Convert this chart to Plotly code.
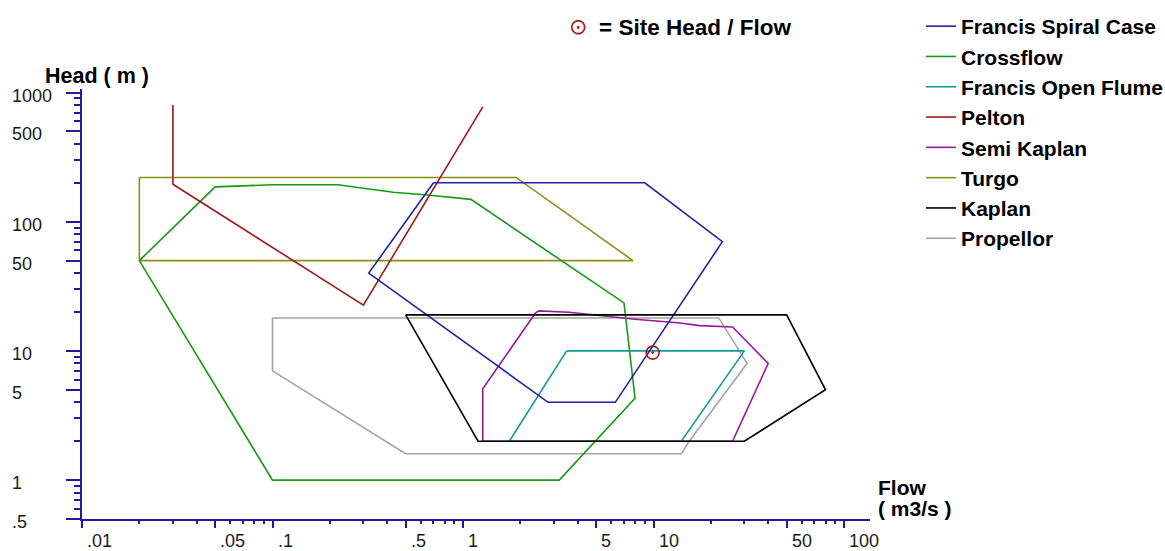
import math
import plotly.graph_objects as go

# ---------------- data ----------------
turbine_names = ["Francis Spiral Case", "Crossflow", "Francis Open Flume", "Pelton",
                 "Semi Kaplan", "Turgo", "Kaplan", "Propellor"]
turbine_colors = ["#2222a8", "#169a16", "#159a9a", "#a01818",
                  "#9a189a", "#8e8e12", "#000000", "#a3a3a3"]

francis_spiral_flow = [0.7, 9, 23, 6.3, 2.8, 0.32, 0.7]
francis_spiral_head = [200, 200, 70, 4, 4, 40, 200]

crossflow_flow = [0.02, 0.05, 0.1, 0.22, 0.43, 0.65, 1.1, 7, 8, 3.2, 0.1, 0.02]
crossflow_head = [50, 186, 193, 193, 169, 161, 149, 23.5, 4.3, 1, 1, 50]

francis_open_flow = [3.5, 30, 14, 1.75, 3.5]
francis_open_head = [10, 10, 2, 2, 10]

pelton_flow = [0.03, 0.03, 0.3, 1.27]
pelton_head = [800, 195, 22.6, 775]

semi_kaplan_flow = [1.27, 1.27, 2.4, 2.5, 3.6, 8, 13.4, 17.5, 26, 40, 26, 1.27]
semi_kaplan_head = [2, 5.1, 19.6, 20.4, 19.9, 17.6, 16.5, 15.7, 15.3, 8, 2, 2]

turgo_flow = [0.02, 1.9, 7.8, 0.02, 0.02]
turgo_head = [220, 220, 50, 50, 220]

kaplan_flow = [0.5, 50, 80, 30, 1.2, 0.5]
kaplan_head = [19, 19, 5, 2, 2, 19]

propellor_flow = [0.1, 22, 31, 15.4, 14, 0.5, 0.1, 0.1]
propellor_head = [18, 18, 8, 2, 1.6, 1.6, 7, 18]

site_flow = [9.9]
site_head = [9.7]

x_major = [0.01, 0.05, 0.1, 0.5, 1, 5, 10, 50, 100]
x_major_labels = [".01", ".05", ".1", ".5", "1", "5", "10", "50", "100"]
x_minor = [0.02, 0.03, 0.04, 0.06, 0.07, 0.08, 0.09,
           0.2, 0.3, 0.4, 0.6, 0.7, 0.8, 0.9,
           2, 3, 4, 6, 7, 8, 9,
           20, 30, 40, 60, 70, 80, 90]
y_major = [0.5, 1, 5, 10, 50, 100, 500, 1000]
y_major_labels = [".5", "1", "5", "10", "50", "100", "500", "1000"]
y_minor = [0.6, 0.7, 0.8, 0.9, 2, 3, 4, 6, 7, 8, 9,
           20, 30, 40, 60, 70, 80, 90, 200, 300, 400, 600, 700, 800, 900]

# ---------------- figure ----------------
W, H = 1165, 551
ML, MT = 82, 89
MR = W - 870
MB = H - 519
PW, PH = W - ML - MR, H - MT - MB
AX = "#1c1c9c"
FONT = "Liberation Sans, Arial, sans-serif"

series = {
    "Francis Spiral Case": (francis_spiral_flow, francis_spiral_head),
    "Crossflow": (crossflow_flow, crossflow_head),
    "Francis Open Flume": (francis_open_flow, francis_open_head),
    "Pelton": (pelton_flow, pelton_head),
    "Semi Kaplan": (semi_kaplan_flow, semi_kaplan_head),
    "Turgo": (turgo_flow, turgo_head),
    "Kaplan": (kaplan_flow, kaplan_head),
    "Propellor": (propellor_flow, propellor_head),
}
draw_order = ["Propellor", "Semi Kaplan", "Francis Open Flume", "Turgo",
              "Crossflow", "Pelton", "Francis Spiral Case", "Kaplan"]

fig = go.Figure()
for name in draw_order:
    i = turbine_names.index(name)
    fx, fy = series[name]
    fig.add_trace(go.Scatter(
        x=fx, y=fy, mode="lines", name="<b>%s</b>" % name,
        line=dict(color=turbine_colors[i], width=1.6),
        legendrank=i + 1, hoverinfo="skip"))

fig.add_trace(go.Scatter(
    x=site_flow, y=site_head, mode="markers", showlegend=False,
    marker=dict(symbol="circle-open-dot", size=13, color="#a01818",
                line=dict(width=1.6, color="#a01818"))))

xr0 = -2.0
xr1 = xr0 + PW / 190.5
yr0 = math.log10(0.5)
yr1 = yr0 + PH / 129.2

fig.update_xaxes(
    type="log", range=[xr0, xr1], showgrid=False, zeroline=False,
    showline=True, linecolor=AX, linewidth=1.5,
    tickmode="array", tickvals=x_major, ticks="outside", ticklen=7,
    tickcolor=AX, tickwidth=1.5, showticklabels=False,
    minor=dict(tickmode="array", tickvals=x_minor, ticks="outside",
               ticklen=3, tickcolor=AX, tickwidth=1.5, showgrid=False))
fig.update_yaxes(
    type="log", range=[yr0, yr1], showgrid=False, zeroline=False,
    showline=True, linecolor=AX, linewidth=1.5,
    tickmode="array", tickvals=y_major, ticks="outside", ticklen=14,
    tickcolor=AX, tickwidth=1.5, showticklabels=False,
    minor=dict(tickmode="array", tickvals=y_minor, ticks="outside",
               ticklen=6, tickcolor=AX, tickwidth=1.5, showgrid=False))

# screen pixel -> paper coordinates
def px_x(p):
    return (p - ML) / PW

def px_y(p):
    return (H - MB - p) / PH

ann = []
for v, t in zip(x_major, x_major_labels):
    ann.append(dict(x=math.log10(v), xref="x", y=px_y(541), yref="paper",
                    text=t, showarrow=False, xanchor="left", yanchor="middle",
                    xshift=3, font=dict(family=FONT, size=18, color="#1a1a1a")))
for v, t in zip(y_major, y_major_labels):
    ann.append(dict(x=px_x(10), xref="paper", y=math.log10(v), yref="y",
                    text=t, showarrow=False, xanchor="left", yanchor="middle",
                    yshift=-3, font=dict(family=FONT, size=18, color="#1a1a1a")))

bold = dict(family=FONT, size=21, color="#000000")
ann.append(dict(x=px_x(43), xref="paper", y=px_y(76), yref="paper",
                text="<b>Head ( m )</b>", showarrow=False, xanchor="left",
                yanchor="middle", font=dict(family=FONT, size=21.5, color="#000000")))
ann.append(dict(x=px_x(876), xref="paper", y=px_y(487), yref="paper",
                text="<b>Flow</b>", showarrow=False, xanchor="left",
                yanchor="middle", font=bold))
ann.append(dict(x=px_x(876), xref="paper", y=px_y(508), yref="paper",
                text="<b>( m3/s )</b>", showarrow=False, xanchor="left",
                yanchor="middle", font=bold))
ann.append(dict(x=px_x(578), xref="paper", y=px_y(26), yref="paper",
                text="⊙", showarrow=False, xanchor="center", yanchor="middle",
                font=dict(family="DejaVu Sans", size=22, color="#a01818")))
ann.append(dict(x=px_x(597), xref="paper", y=px_y(27), yref="paper",
                text="<b>= Site Head / Flow</b>", showarrow=False, xanchor="left",
                yanchor="middle", font=dict(family=FONT, size=22.5, color="#000000")))

fig.update_layout(
    width=W, height=H,
    margin=dict(l=ML, r=MR, t=MT, b=MB, autoexpand=False),
    paper_bgcolor="white", plot_bgcolor="white",
    showlegend=True,
    legend=dict(xref="paper", yref="paper", x=px_x(921), y=px_y(6),
                xanchor="left", yanchor="top", bgcolor="rgba(0,0,0,0)",
                borderwidth=0, itemwidth=30, traceorder="normal",
                font=dict(family=FONT, size=21, color="#000000")),
    annotations=ann,
)

fig.write_html("out.html",
               config={"displayModeBar": False},
               post_script="document.body.style.margin='0';"
                           "document.body.style.overflow='hidden';")
